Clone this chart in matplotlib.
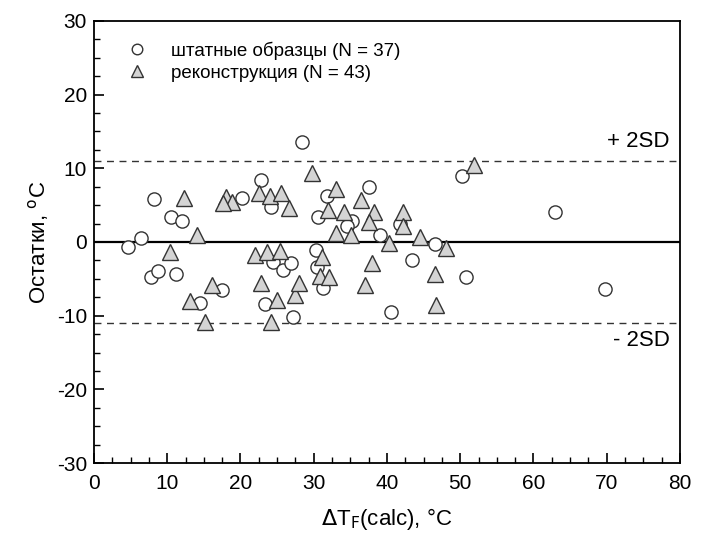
import numpy as np
import matplotlib.pyplot as plt
from matplotlib.ticker import MultipleLocator

plt.rcParams['font.family'] = ['Liberation Sans', 'DejaVu Sans']
plt.rcParams['axes.unicode_minus'] = False

# штатные образцы (circles)
std_x = [4.7, 6.4, 8.2, 10.5, 12.0, 7.8, 8.8, 11.2, 14.5, 17.5,
         20.2, 22.8, 24.2, 24.4, 25.8, 26.9, 23.4, 27.2, 28.4, 31.8,
         30.6, 30.3, 30.5, 31.3, 37.5, 35.2, 34.6, 39.1, 41.8, 43.4,
         40.6, 46.5, 50.3, 50.8, 62.9, 69.7]
std_y = [-0.7, 0.5, 5.8, 3.4, 2.9, -4.7, -3.9, -4.3, -8.3, -6.5,
         6.0, 8.4, 4.8, -2.7, -3.8, -2.9, -8.4, -10.2, 13.6, 6.2,
         3.4, -1.1, -3.4, -6.2, 7.4, 2.8, 2.2, 0.9, 2.4, -2.4,
         -9.5, -0.3, 8.9, -4.8, 4.1, -6.4]

# реконструкция (triangles)
rec_x = [10.4, 12.3, 14.1, 13.1, 15.2, 16.1, 18.0, 18.8, 17.6, 22.6,
         24.0, 25.6, 26.6, 22.0, 23.6, 25.4, 22.8, 25.0, 24.2, 27.4,
         28.0, 29.8, 33.0, 32.0, 34.1, 33.0, 35.1, 36.5, 38.3, 37.5,
         31.2, 30.9, 32.1, 40.3, 42.2, 42.2, 44.5, 48.0, 38.0, 37.0,
         46.6, 46.7, 51.9]
rec_y = [-1.3, 5.9, 1.0, -8.0, -10.8, -5.9, 6.1, 5.4, 5.3, 6.7,
         6.2, 6.7, 4.6, -1.8, -1.3, -1.2, -5.6, -7.9, -10.9, -7.2,
         -5.6, 9.4, 7.2, 4.3, 4.1, 1.2, 1.0, 5.7, 4.0, 2.7,
         -2.0, -4.6, -4.7, -0.2, 4.0, 2.1, 0.7, -0.8, -2.8, -5.8,
         -4.3, -8.5, 10.4]

sd2 = 11.0

fig = plt.figure(figsize=(7.01, 5.33), dpi=100)
ax = fig.add_axes([0.134, 0.131, 0.836, 0.830])

ax.axhline(0, color='black', lw=1.6, zorder=1)
ax.axhline(sd2, color='#333333', lw=1.0, ls=(0, (5, 4)), zorder=1)
ax.axhline(-sd2, color='#333333', lw=1.0, ls=(0, (5, 4)), zorder=1)

ax.plot(std_x, std_y, 'o', ms=9.5, mfc='white', mec='#333333', mew=1.0,
        label='штатные образцы (N = 37)', zorder=3)
ax.plot(rec_x, rec_y, '^', ms=11, mfc='#d4d4d4', mec='#333333', mew=1.0,
        label='реконструкция (N = 43)', zorder=3)

ax.text(78.6, 12.2, '+ 2SD', ha='right', va='bottom', fontsize=16)
ax.text(78.6, -12.0, '- 2SD', ha='right', va='top', fontsize=16)

ax.set_xlim(0, 80)
ax.set_ylim(-30, 30)
ax.xaxis.set_major_locator(MultipleLocator(10))
ax.xaxis.set_minor_locator(MultipleLocator(2.5))
ax.yaxis.set_major_locator(MultipleLocator(10))
ax.yaxis.set_minor_locator(MultipleLocator(2.5))
ax.tick_params(which='both', direction='in', top=False, right=False, labelsize=15)
ax.tick_params(which='major', length=7, width=1.2)
ax.tick_params(axis='x', which='major', pad=8)
ax.tick_params(axis='y', which='major', pad=5)
ax.tick_params(which='minor', length=4, width=1.0)
for s in ax.spines.values():
    s.set_linewidth(1.3)

ax.set_xlabel(r'$\Delta$T$_{\rm F}$(calc), °C', fontsize=16, labelpad=9)
ax.set_ylabel(r'Остатки, $^{\rm o}$C', fontsize=16, labelpad=4)

leg = ax.legend(loc='upper left', frameon=False, fontsize=13.5, markerscale=0.8,
                handletextpad=0.6, borderaxespad=0.7, labelspacing=0.25,
                handlelength=2.4)

fig.savefig('out.png', dpi=100)
